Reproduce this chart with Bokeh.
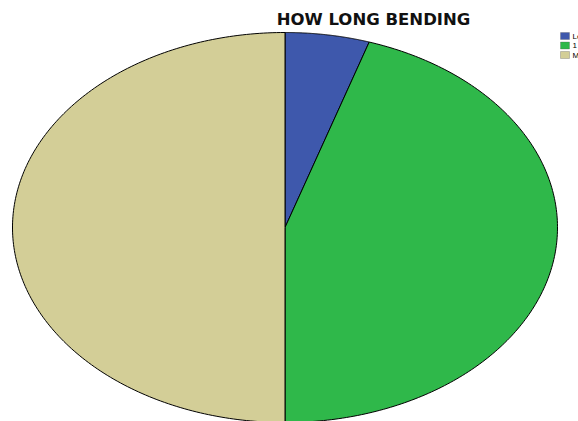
import numpy as np
from bokeh.plotting import figure
from bokeh.models import Range1d, Label, ColumnDataSource, BoxAnnotation
from bokeh.embed import file_html
from bokeh.resources import INLINE

# Data
categories = ["Less than 1 hour", "1 - 3 hours", "More than 3 hours"]
counts = [1, 9, 10]
colors = ["#3e58ac", "#2fb84a", "#d3ce97"]
title_text = "HOW LONG BENDING"

W, H = 578, 421
cx_px, cy_px = 284.5, 227.0   # ellipse centre in pixels (from top-left)
rx_px, ry_px = 272.5, 195.0

p = figure(width=W, height=H, output_backend="svg", toolbar_location=None,
           min_border=0, min_border_left=0, min_border_right=0,
           min_border_top=0, min_border_bottom=0)
p.x_range = Range1d(-cx_px / rx_px, (W - cx_px) / rx_px)
p.y_range = Range1d(-(H - cy_px) / ry_px, cy_px / ry_px)
p.axis.visible = False
p.grid.visible = False
p.outline_line_color = None
p.background_fill_color = "white"
p.border_fill_color = "white"

total = float(sum(counts))
fracs = np.array(counts) / total
ends = np.cumsum(fracs)
starts = ends - fracs
xs, ys = [], []
for s, e in zip(starts, ends):
    # clockwise from 12 o'clock
    t = np.linspace(s, e, 200) * 2 * np.pi
    x = np.concatenate([[0], np.sin(t), [0]])
    y = np.concatenate([[0], np.cos(t), [0]])
    xs.append(x.tolist())
    ys.append(y.tolist())
src = ColumnDataSource(dict(xs=xs, ys=ys, color=colors))
p.patches("xs", "ys", source=src, fill_color="color", line_color="black", line_width=1)

p.add_layout(Label(x=373, y=H - 19, x_units="screen", y_units="screen", text=title_text,
                   text_align="center", text_baseline="middle", text_font="DejaVu Sans",
                   text_font_style="bold", text_font_size="16.5px", text_color="#111111"))

# legend
for i, (c, lab) in enumerate(zip(colors, categories)):
    top = 32 + i * 9.5
    p.add_layout(BoxAnnotation(left=560, right=569, top=H - top, bottom=H - top - 7,
                               left_units="screen", right_units="screen",
                               top_units="screen", bottom_units="screen",
                               fill_color=c, fill_alpha=1, line_color="#555555", line_width=1))
    p.add_layout(Label(x=572, y=H - top - 3.5, x_units="screen", y_units="screen", text=lab,
                       text_align="left", text_baseline="middle", text_font="Liberation Sans",
                       text_font_size="8px", text_color="black"))

open("out.html", "w").write(file_html(p, INLINE))
